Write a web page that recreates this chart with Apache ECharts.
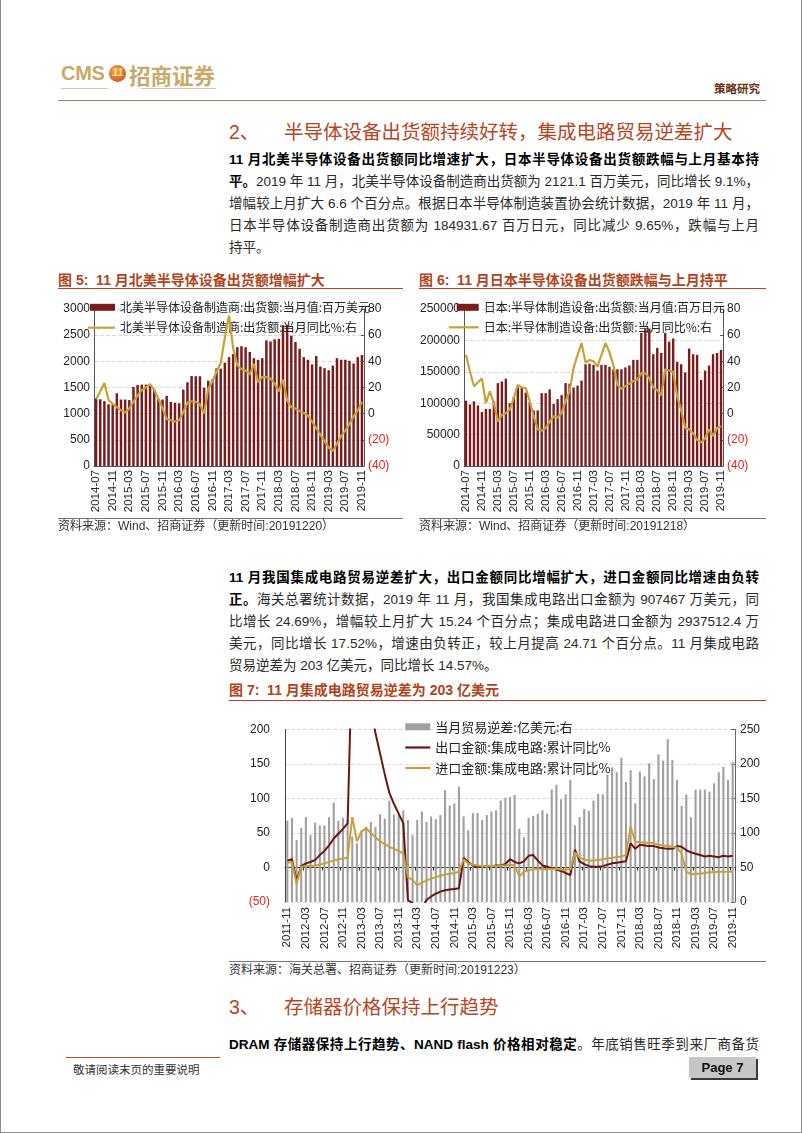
<!DOCTYPE html>
<html><head><meta charset="utf-8">
<script src="https://cdn.jsdelivr.net/npm/echarts@6/dist/echarts.min.js"></script>
<style>
html,body{margin:0;padding:0;background:#fff;}
#page{position:relative;width:802px;height:1133px;overflow:hidden;box-sizing:border-box;border-left:1px solid #8a8a8a;border-right:1px solid #8a8a8a;border-bottom:1px solid #8a8a8a;font-family:"Liberation Sans","Noto Sans CJK SC",sans-serif;color:#222;}
.abs{position:absolute;white-space:nowrap;}
.pl{position:absolute;left:228px;width:530px;font-size:13.5px;line-height:22px;height:22px;text-align:justify;text-align-last:justify;white-space:nowrap;color:#2a2a2a;}
.pl.last{text-align:left;text-align-last:left;}
.pl b{color:#000;font-weight:bold;}
.sec{position:absolute;left:228px;font-size:19.5px;color:#b5461f;white-space:nowrap;font-family:"Liberation Sans","Noto Sans CJK SC",sans-serif;}
.fig{position:absolute;font-size:14px;font-weight:bold;color:#b0441c;white-space:nowrap;}
.hr{position:absolute;height:1px;}
.src{position:absolute;font-size:12px;color:#333;white-space:nowrap;}
.chart{position:absolute;}
</style></head>
<body><div id="page">
<!-- header -->
<div class="abs" style="left:60px;top:62px;font:bold 20px 'Liberation Sans';color:#c9a86a;letter-spacing:-0.3px;">CMS</div>
<div class="abs" style="left:108px;top:65px;width:17px;height:17px;border-radius:50%;background:radial-gradient(circle at 40% 35%,#f6a944,#c43c1a);"></div>
<div class="abs" style="left:111px;top:66px;font:italic bold 11px 'Liberation Sans';color:#f7dc8c;">11</div>
<div class="abs" style="left:128px;top:60px;font-size:21.5px;font-weight:bold;color:#c9a86a;font-family:'Noto Sans CJK SC';line-height:30px;">招商证券</div>
<div class="hr" style="left:60px;top:88px;width:47px;background:#dcc59a;"></div>
<div class="hr" style="left:140px;top:88px;width:75px;background:#dcc59a;"></div>
<div class="abs" style="left:713px;top:80px;font-size:11.5px;font-weight:bold;color:#6b2e12;font-family:'Noto Sans CJK SC';">策略研究</div>
<div class="hr" style="left:57px;top:100px;width:708px;background:#b27a5c;"></div>

<!-- section 2 -->
<div class="sec" style="top:116px;">2、</div>
<div class="sec" style="left:283px;top:116px;">半导体设备出货额持续好转，集成电路贸易逆差扩大</div>
<div class="pl" style="top:149px;"><b>11 月北美半导体设备出货额同比增速扩大，日本半导体设备出货额跌幅与上月基本持</b></div>
<div class="pl" style="top:171px;"><b>平。</b>2019 年 11 月，北美半导体设备制造商出货额为 2121.1 百万美元，同比增长 9.1%，</div>
<div class="pl" style="top:193px;">增幅较上月扩大 6.6 个百分点。根据日本半导体制造装置协会统计数据，2019 年 11 月，</div>
<div class="pl" style="top:215px;">日本半导体设备制造商出货额为 184931.67 百万日元，同比减少 9.65%，跌幅与上月</div>
<div class="pl last" style="top:237px;">持平。</div>

<div class="fig" style="left:57px;top:269px;">图 5:&nbsp; 11 月北美半导体设备出货额增幅扩大</div>
<div class="hr" style="left:57px;top:288px;width:345px;background:#c0392b;"></div>
<div class="fig" style="left:418px;top:269px;">图 6:&nbsp; 11 月日本半导体设备出货额跌幅与上月持平</div>
<div class="hr" style="left:418px;top:288px;width:347px;background:#c0392b;"></div>

<div id="c5" class="chart" style="left:50px;top:290px;width:360px;height:228px;"></div>
<div id="c6" class="chart" style="left:410px;top:290px;width:360px;height:228px;"></div>

<div class="hr" style="left:57px;top:518px;width:345px;background:#777;"></div>
<div class="hr" style="left:418px;top:518px;width:347px;background:#777;"></div>
<div class="src" style="left:57px;top:516px;">资料来源：Wind、招商证券（更新时间:20191220）</div>
<div class="src" style="left:418px;top:516px;">资料来源：Wind、招商证券（更新时间:20191218）</div>

<div class="pl" style="top:567px;"><b>11 月我国集成电路贸易逆差扩大，出口金额同比增幅扩大，进口金额同比增速由负转</b></div>
<div class="pl" style="top:589px;"><b>正。</b>海关总署统计数据，2019 年 11 月，我国集成电路出口金额为 907467 万美元，同</div>
<div class="pl" style="top:611px;">比增长 24.69%，增幅较上月扩大 15.24 个百分点；集成电路进口金额为 2937512.4 万</div>
<div class="pl" style="top:633px;">美元，同比增长 17.52%，增速由负转正，较上月提高 24.71 个百分点。11 月集成电路</div>
<div class="pl last" style="top:655px;">贸易逆差为 203 亿美元，同比增长 14.57%。</div>

<div class="fig" style="left:228px;top:679px;">图 7:&nbsp; 11 月集成电路贸易逆差为 203 亿美元</div>
<div class="hr" style="left:228px;top:700px;width:537px;background:#c0392b;"></div>

<div id="c7" class="chart" style="left:225px;top:705px;width:540px;height:255px;"></div>
<div class="hr" style="left:228px;top:961px;width:537px;background:#777;"></div>
<div class="src" style="left:228px;top:960px;">资料来源：海关总署、招商证券（更新时间:20191223）</div>

<!-- section 3 -->
<div class="sec" style="top:991px;">3、</div>
<div class="sec" style="left:283px;top:991px;">存储器价格保持上行趋势</div>
<div class="pl" style="top:1034px;"><b>DRAM 存储器保持上行趋势、NAND flash 价格相对稳定</b>。年底销售旺季到来厂商备货</div>

<!-- footer -->
<div class="hr" style="left:65px;top:1057px;width:154px;background:#a8522e;"></div>
<div class="abs" style="left:72px;top:1061px;font-size:11.5px;color:#333;font-family:'Noto Sans CJK SC';">敬请阅读末页的重要说明</div>
<div class="abs" style="left:688px;top:1057px;width:67px;height:21px;background:#c6c6c6;box-shadow:2px 2px 0 #3a3a3a;font:bold 13px 'Liberation Sans';line-height:21px;text-align:center;color:#111;">Page 7</div>
</div>

<script>
// ---------- data ----------
function monthRange(y, m, n) {
  const out = [];
  for (let k = 0; k < n; k++) {
    const t = (m - 1) + k;
    out.push((y + Math.floor(t / 12)) + '-' + String(t % 12 + 1).padStart(2, '0'));
  }
  return out;
}
// Fig 5 / Fig 6 : 2014-07 .. 2019-11
const months56 = monthRange(2014, 7, 65);
const naShip = [1290,1275,1240,1180,1170,1390,1270,1270,1260,1510,1550,1555,1555,1550,1460,1280,1270,1340,1225,1210,1200,1460,1600,1720,1715,1715,1495,1630,1650,1865,1860,1975,2080,2140,2270,2290,2270,2180,2060,2030,2060,2400,2380,2420,2430,2690,2700,2490,2370,2240,2080,2030,1940,2100,1900,1870,1830,1920,2060,2030,2030,2010,1960,2080,2121.1];
const naYoy = [11,17,23.5,10.5,7.5,5,2.6,0.8,4,9,14,18,20,22.5,18,11.6,4,-4,-5,-6,-5,1,8.5,9.5,9,7,0,19,24.5,32,38.7,58,75,50,37,34,33,30,38,24,28,28,27,23,17,26,10,5,4,2,0.5,-1.5,-6,-11,-16,-21,-26,-28.5,-23,-17,-13,-8,-2,2.5,9.1];
const jpShip = [104000,98000,103000,96500,86000,91000,91000,103000,132000,134500,139000,100000,110000,125500,126000,117000,102000,88500,88500,116000,116000,122000,99000,106500,113000,132000,131000,125000,128000,136000,162000,163000,161000,152000,161000,161000,158000,154000,154000,154000,157000,160000,169000,169000,212000,218000,219000,178000,188000,180000,212000,198000,203000,166000,162000,149000,187000,178000,177000,137000,152000,160000,178000,180000,184931.67];
const jpYoy = [45,32,21,24,27,8,17,8,-6,-1,0.5,3,12,22,20,19.6,9.5,-2,-12,-13,-11,-6,-2,-3,0.5,9.5,17,35,45,54,39,41,40,36,45,54,47,37,22,19,21,23,25,26,31,31,27,20,18,14,34,33,32,13,3,-11,-12,-15,-20,-22,-19,-12,-17,-11,-9.65];
const naBarName = '北美半导体设备制造商:出货额:当月值:百万美元';
const naLineName = '北美半导体设备制造商:出货额:当月同比%:右';
const jpBarName = '日本:半导体制造设备:出货额:当月值:百万日元';
const jpLineName = '日本:半导体制造设备:出货额:当月同比%:右';
const leftTicks5 = {min: 0, max: 3000, interval: 500};
const leftTicks6 = {min: 0, max: 250000, interval: 50000};
const rightTicks56 = {min: -40, max: 80, interval: 20};

// Fig 7 : 2011-11 .. 2019-11
const months7 = monthRange(2011, 11, 97);
const icDeficit = [118,122,90,107,123,97,115,111,111,123,144,118,122,118,95,85,104,109,116,109,127,121,147,127,127,133,119,97,119,131,116,124,120,126,162,140,143,167,124,104,129,129,119,126,131,133,147,151,152,155,106,94,122,125,128,133,128,163,170,149,156,177,111,123,135,132,147,157,156,184,195,188,209,174,191,143,189,182,201,178,214,205,236,206,177,139,156,123,163,163,163,160,172,188,196,177,203];
const icExport = [10,12,-20,2,6,8,11,18,24,32,42,49,56,64,320,330,300,260,230,195,165,135,108,92,78,64,-47,-52,-62,-60,-47,-42,-38,-35,-33,-32,-31,-30,14,8,3,1,2,2,2,3,3,5,12,8,6,9,17,18,10,3,1,-1,-3,-5,-8,-11,26,9,5,2,1,1,2,4,6,7,8,9,35,27,33,32,31,31,29,28,27,27,31,30,25,22,20,18,16,17,16,15,17,16,17];
const icImport = [7,8,-24,1,2,2,3,4,6,8,10,12,13,14,73,38,52,57,50,44,38,34,30,27,24,20,-14,-18,-26,-22,-19,-16,-14,-12,-10,-9,-8,-6,12,6,4,3,2,2,2,2,3,3,4,3,-13,-6,-4,-3,-2,-2,-2,-2,-2,-3,-3,-3,22,14,12,10,10,11,12,13,14,15,16,18,59,37,37,36,36,35,33,32,31,30,29,20,-6,-10,-9,-9,-8,-7,-7,-6,-6,-6,-6];
const icBarName = '当月贸易逆差:亿美元:右';
const icExpName = '出口金额:集成电路:累计同比%';
const icImpName = '进口金额:集成电路:累计同比%';
const leftTicks7 = {min: -50, max: 200, interval: 50};
const rightTicks7 = {min: 0, max: 250, interval: 50};

// ---------- styles ----------
const MAROON = '#7a1c1c', GOLD = '#c8a136', DARKRED = '#6e1414', GRAY = '#a0a0a0';
const FONT = 'Liberation Sans';
const CJK = 'Noto Sans CJK SC';
const plainFmt = v => String(v);
const negFmt = v => v < 0 ? '{r|(' + Math.abs(v) + ')}' : String(v);
const redRich = {r: {color: '#e8231e', fontSize: 12, fontFamily: FONT}};
const legendText = {fontSize: 12, fontFamily: CJK, color: '#222', lineHeight: 14};

function chart56(id, gridLeft, gridWidth, barName, lineName, bars, yoy, leftTicks, lp) {
  const c = echarts.init(document.getElementById(id), null, {renderer: 'canvas'});
  c.setOption({
    animation: false,
    grid: {left: gridLeft, top: 19, width: gridWidth, height: 157, outerBoundsMode: 'none', containLabel: false},
    legend: [
      {data: [{name: barName, icon: 'rect', itemStyle: {color: MAROON}}], left: lp[0], top: lp[1], itemWidth: lp[4], itemHeight: 7,
       textStyle: legendText, selectedMode: false, padding: 0},
      {data: [{name: lineName, icon: 'rect', itemStyle: {color: GOLD}}], left: lp[2], top: lp[3], itemWidth: lp[5], itemHeight: 2.2,
       textStyle: legendText, selectedMode: false, padding: 0}
    ],
    xAxis: {
      type: 'category', data: months56, boundaryGap: true,
      axisLine: {lineStyle: {color: '#555', width: 1}},
      axisTick: {interval: 3, length: 4, lineStyle: {color: '#555'}},
      axisLabel: {interval: 3, rotate: 90, fontSize: 11.5, fontFamily: FONT, color: '#222', margin: 4}
    },
    yAxis: [
      {type: 'value', min: leftTicks.min, max: leftTicks.max, interval: leftTicks.interval,
       axisLine: {show: true, lineStyle: {color: '#555'}}, axisTick: {show: false},
       splitLine: {show: true, lineStyle: {color: '#d8d8d8', type: 'dashed'}},
       axisLabel: {fontSize: 12, fontFamily: FONT, color: '#222', margin: 4, formatter: plainFmt, showMinLabel: true, showMaxLabel: true}},
      {type: 'value', position: 'right', min: rightTicks56.min, max: rightTicks56.max, interval: rightTicks56.interval,
       axisLine: {show: true, lineStyle: {color: '#555'}}, axisTick: {show: true, inside: true, length: 3, lineStyle: {color: '#555'}},
       splitLine: {show: false},
       axisLabel: {fontSize: 12, fontFamily: FONT, color: '#222', margin: 4, formatter: negFmt, rich: redRich, showMinLabel: true, showMaxLabel: true}}
    ],
    series: [
      {name: barName, type: 'bar', data: bars, barWidth: '60%', itemStyle: {color: MAROON}},
      {name: lineName, type: 'line', yAxisIndex: 1, data: yoy, symbol: 'none', lineStyle: {color: GOLD, width: 2.2}, itemStyle: {color: GOLD}, z: 5}
    ]
  });
}
// lp: [barLeft, barTop, lineLeft, lineTop, barW, lineW]
chart56('c5', 43, 270, naBarName, naLineName, naShip, naYoy, leftTicks5, [39, 10.3, 37, 30.7, 25, 27]);
chart56('c6', 53, 259, jpBarName, jpLineName, jpShip, jpYoy, leftTicks6, [45.7, 10.3, 37.7, 30.3, 22, 30]);

const c7 = echarts.init(document.getElementById('c7'), null, {renderer: 'canvas'});
c7.setOption({
  animation: false,
  grid: {left: 59, top: 24.5, width: 450, height: 172.5, outerBoundsMode: 'none', containLabel: false},
  legend: [
    {data: [{name: icBarName, icon: 'rect', itemStyle: {color: GRAY}}], left: 179.3, top: 14.8, itemWidth: 25, itemHeight: 7,
     padding: 0, textStyle: {fontSize: 13, fontFamily: CJK, color: '#222', lineHeight: 14}, selectedMode: false},
    {data: [{name: icExpName, icon: 'rect', itemStyle: {color: DARKRED}}, {name: icImpName, icon: 'rect', itemStyle: {color: GOLD}}],
     orient: 'vertical', left: 179.3, top: 35.5, itemWidth: 25, itemHeight: 2.2, itemGap: 6.5, padding: 0,
     textStyle: {fontSize: 13, fontFamily: CJK, color: '#222', lineHeight: 14}, selectedMode: false}
  ],
  xAxis: [
    {type: 'category', data: months7, boundaryGap: true, position: 'bottom',
     axisLine: {show: false, onZero: false}, axisTick: {show: false},
     axisLabel: {interval: 3, rotate: 90, fontSize: 11.5, fontFamily: FONT, color: '#222', margin: 5}},
    {type: 'category', data: months7, boundaryGap: true, position: 'bottom',
     axisLine: {show: true, onZero: true, onZeroAxisIndex: 0, lineStyle: {color: '#333', width: 1}},
     axisTick: {show: true, interval: 3, length: 3, lineStyle: {color: '#333'}}, axisLabel: {show: false}}
  ],
  yAxis: [
    {type: 'value', min: leftTicks7.min, max: leftTicks7.max, interval: leftTicks7.interval,
     axisLine: {show: true, onZero: false, lineStyle: {color: '#444'}}, axisTick: {show: false},
     splitLine: {show: true, lineStyle: {color: '#dedede', type: 'dashed'}},
     axisLabel: {fontSize: 12, fontFamily: FONT, color: '#222', margin: 15, formatter: negFmt, rich: redRich, showMinLabel: true, showMaxLabel: true}},
    {type: 'value', position: 'right', min: rightTicks7.min, max: rightTicks7.max, interval: rightTicks7.interval,
     axisLine: {show: true, onZero: false, lineStyle: {color: '#666'}}, axisTick: {show: true, inside: true, length: 4, lineStyle: {color: '#666'}},
     splitLine: {show: false},
     axisLabel: {fontSize: 12, fontFamily: FONT, color: '#222', margin: 5, formatter: plainFmt, showMinLabel: true, showMaxLabel: true}}
  ],
  series: [
    {name: icBarName, type: 'bar', yAxisIndex: 1, data: icDeficit, barWidth: '45%', itemStyle: {color: GRAY}, z: 1},
    {name: icExpName, type: 'line', yAxisIndex: 0, data: icExport, symbol: 'none', clip: true, lineStyle: {color: DARKRED, width: 2}, itemStyle: {color: DARKRED}, z: 4},
    {name: icImpName, type: 'line', yAxisIndex: 0, data: icImport, symbol: 'none', clip: true, lineStyle: {color: GOLD, width: 2}, itemStyle: {color: GOLD}, z: 5}
  ]
});
</script>
</body></html>
